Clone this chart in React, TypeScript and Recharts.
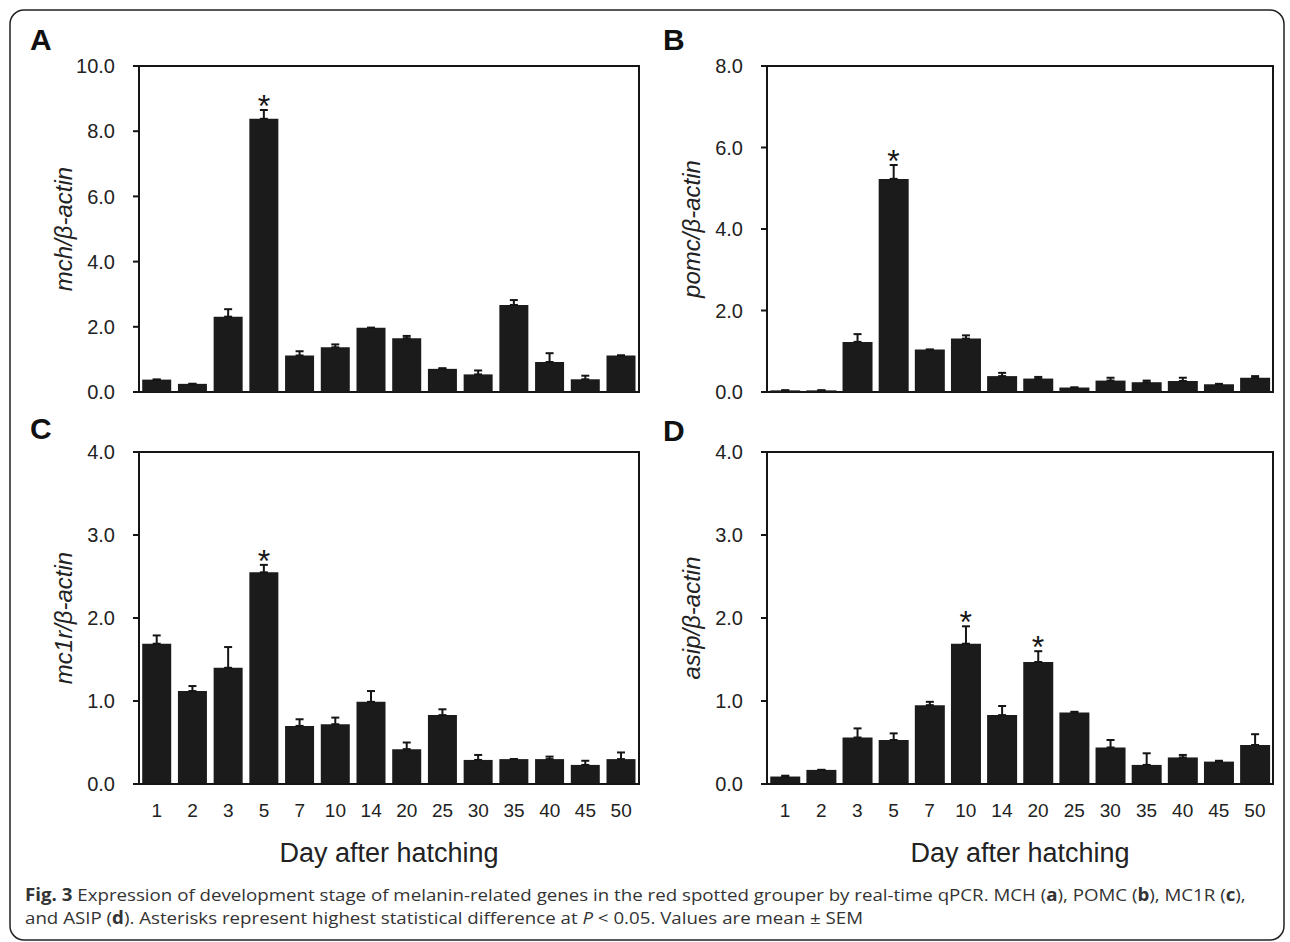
import React, { useLayoutEffect, useRef, useState } from 'react';
import { ComposedChart, Bar, ErrorBar, Scatter, XAxis, YAxis, ReferenceArea } from 'recharts';

const days = ['1', '2', '3', '5', '7', '10', '14', '20', '25', '30', '35', '40', '45', '50'];

const mchMean = [0.38, 0.25, 2.31, 8.38, 1.12, 1.37, 1.97, 1.65, 0.71, 0.54, 2.67, 0.92, 0.39, 1.12];
const mchSem = [0, 0, 0.23, 0.27, 0.13, 0.09, 0, 0.07, 0.02, 0.12, 0.15, 0.27, 0.11, 0];
const mchStars = ['5'];

const pomcMean = [0.04, 0.04, 1.23, 5.23, 1.04, 1.31, 0.39, 0.33, 0.11, 0.28, 0.24, 0.27, 0.19, 0.35];
const pomcSem = [0, 0, 0.19, 0.34, 0, 0.08, 0.08, 0.04, 0, 0.07, 0.04, 0.08, 0.01, 0.04];
const pomcStars = ['5'];

const mc1rMean = [1.69, 1.12, 1.4, 2.55, 0.7, 0.72, 0.99, 0.42, 0.83, 0.29, 0.3, 0.3, 0.23, 0.3];
const mc1rSem = [0.1, 0.06, 0.25, 0.09, 0.08, 0.08, 0.13, 0.08, 0.07, 0.06, 0, 0.03, 0.05, 0.08];
const mc1rStars = ['5'];

const asipMean = [0.09, 0.17, 0.56, 0.53, 0.95, 1.69, 0.83, 1.47, 0.86, 0.44, 0.23, 0.32, 0.27, 0.47];
const asipSem = [0.01, 0, 0.11, 0.08, 0.04, 0.21, 0.11, 0.13, 0.01, 0.09, 0.14, 0.03, 0.01, 0.13];
const asipStars = ['10', '20'];

const ticks10 = [0, 2, 4, 6, 8, 10];
const ticks8 = [0, 2, 4, 6, 8];
const ticks4 = [0, 1, 2, 3, 4];

const FONT = '"Liberation Sans", Arial, Helvetica, sans-serif';
const INK = '#151515';

const build = (mean: number[], sem: number[], stars: string[]) =>
  days.map((d, i) => ({
    day: d,
    mean: mean[i],
    err: [0, sem[i]],
    star: stars.includes(d) ? mean[i] + sem[i] : null,
  }));

const Star = (p: any) => {
  if (p.payload == null || p.payload.star == null || !Number.isFinite(p.cy)) return <g />;
  return (
    <text x={p.cx} y={p.cy + 7} textAnchor='middle' fontSize={32} fontFamily={FONT} fill={INK}>
      *
    </text>
  );
};

type PanelProps = {
  data: any[];
  yMax: number;
  ticks: number[];
  yLabel: string;
  plotLeft: number;
  plotTop: number;
  plotW: number;
  plotH: number;
  showX: boolean;
};

const Panel = ({ data, yMax, ticks, yLabel, plotLeft, plotTop, plotW, plotH, showX }: PanelProps) => {
  const axisW = 152;
  const xH = showX ? 100 : 0;
  const margin = { top: 20, right: 20, bottom: 10, left: 0 };
  const width = axisW + plotW + margin.right;
  const height = margin.top + plotH + xH + margin.bottom;
  const line = { stroke: INK, strokeWidth: 2 };
  return (
    <div style={{ position: 'absolute', left: plotLeft - axisW, top: plotTop - margin.top }}>
      <ComposedChart width={width} height={height} data={data} margin={margin} barCategoryGap='9%'>
        <XAxis
          dataKey='day'
          interval={0}
          height={xH}
          tickLine={false}
          tickSize={0}
          tickMargin={20}
          axisLine={line}
          tick={showX ? { fontSize: 19, fill: '#222', fontFamily: FONT } : false}
          label={
            showX
              ? {
                  value: 'Day after hatching',
                  position: 'insideBottom',
                  offset: 22,
                  fontSize: 27,
                  fill: '#222',
                  fontFamily: FONT,
                }
              : undefined
          }
        />
        <YAxis
          domain={[0, yMax]}
          ticks={ticks}
          interval={0}
          width={axisW}
          tickSize={6}
          tickMargin={18}
          tickLine={line}
          axisLine={line}
          tickFormatter={(v: number) => v.toFixed(1)}
          tick={{ fontSize: 20, fill: '#222', fontFamily: FONT }}
          label={{
            value: yLabel,
            angle: -90,
            position: 'center',
            fontSize: 24,
            fontStyle: 'italic',
            fill: '#222',
            fontFamily: FONT,
          }}
        />
        <Bar dataKey='mean' fill='#1b1b1b' isAnimationActive={false}>
          <ErrorBar dataKey='err' direction='y' width={4} strokeWidth={2} stroke={INK} />
        </Bar>
        <Scatter dataKey='star' shape={<Star />} isAnimationActive={false} />
        {/* plot frame */}
        <ReferenceArea y1={0} y2={yMax} fill='none' fillOpacity={0} stroke={INK} strokeWidth={2} />
      </ComposedChart>
    </div>
  );
};

const Caption = () => {
  const ref = useRef<SVGTextElement>(null);
  const [k, setK] = useState(1);
  useLayoutEffect(() => {
    if (ref.current) {
      const w = ref.current.getComputedTextLength();
      if (w > 0) setK(1222 / w);
    }
  }, []);
  const style = { fontFamily: '"Open Sans", "Noto Sans", sans-serif', fontSize: 17, fill: '#333' };
  return (
    <g transform={`translate(25,0) scale(${k},1)`} style={style}>
      <text ref={ref} x={0} y={901}>
        <tspan fontWeight='bold'>Fig. 3</tspan>
        {' Expression of development stage of melanin-related genes in the red spotted grouper by real-time qPCR. MCH ('}
        <tspan fontWeight='bold'>a</tspan>
        {'), POMC ('}
        <tspan fontWeight='bold'>b</tspan>
        {'), MC1R ('}
        <tspan fontWeight='bold'>c</tspan>
        {'),'}
      </text>
      <text x={0} y={924}>
        {'and ASIP ('}
        <tspan fontWeight='bold'>d</tspan>
        {'). Asterisks represent highest statistical difference at '}
        <tspan fontStyle='italic'>P</tspan>
        {' < 0.05. Values are mean ± SEM'}
      </text>
    </g>
  );
};

const App = () => {
  const letter = { fontFamily: FONT, fontSize: 30, fontWeight: 'bold' as const, fill: '#111' };
  return (
    <div style={{ position: 'absolute', left: 0, top: 0, width: 1290, height: 942, background: '#fff', overflow: 'hidden' }}>
      <Panel data={build(mchMean, mchSem, mchStars)} yMax={10} ticks={ticks10} yLabel='mch/β-actin'
        plotLeft={139} plotTop={66} plotW={500} plotH={326} showX={false} />
      <Panel data={build(pomcMean, pomcSem, pomcStars)} yMax={8} ticks={ticks8} yLabel='pomc/β-actin'
        plotLeft={767} plotTop={66} plotW={506} plotH={326} showX={false} />
      <Panel data={build(mc1rMean, mc1rSem, mc1rStars)} yMax={4} ticks={ticks4} yLabel='mc1r/β-actin'
        plotLeft={139} plotTop={452} plotW={500} plotH={332} showX />
      <Panel data={build(asipMean, asipSem, asipStars)} yMax={4} ticks={ticks4} yLabel='asip/β-actin'
        plotLeft={767} plotTop={452} plotW={506} plotH={332} showX />
      <svg width={1290} height={942} style={{ position: 'absolute', left: 0, top: 0, pointerEvents: 'none' }}>
        <rect x={10} y={10} width={1274} height={930} rx={14} ry={14} fill='none' stroke='#222' strokeWidth={1.5} />
        <text x={30} y={50} style={letter}>A</text>
        <text x={663} y={50} style={letter}>B</text>
        <text x={30} y={439} style={letter}>C</text>
        <text x={663} y={441} style={letter}>D</text>
        <Caption />
      </svg>
    </div>
  );
};

export default App;
